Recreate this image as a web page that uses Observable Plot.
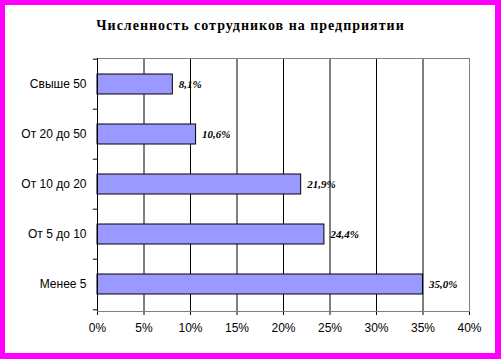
<!DOCTYPE html>
<html>
<head>
<meta charset="utf-8">
<script src="https://cdn.jsdelivr.net/npm/d3@7"></script>
<script src="https://cdn.jsdelivr.net/npm/@observablehq/plot@0.6"></script>
<style>
  html, body { margin: 0; padding: 0; background: #fff; }
  #wrap { position: relative; width: 501px; height: 359px; overflow: hidden; background: #fff; }
  #border { position: absolute; left: 0; top: 0; width: 501px; height: 359px; box-sizing: border-box;
            border-style: solid; border-color: #ff00ff; border-width: 5px 6px 6px 5px; pointer-events: none; }
  svg { display: block; }
  .chart-title text { letter-spacing: 1px; }
</style>
</head>
<body>
<div id="wrap"><div id="border"></div></div>
<script>
const title = "Численность сотрудников на предприятии";
const categories = ["Свыше 50", "От 20 до 50", "От 10 до 20", "От 5 до 10", "Менее 5"];
const values = [8.1, 10.6, 21.9, 24.4, 35.0];
const xTicks = [0, 5, 10, 15, 20, 25, 30, 35, 40];
const gridTicks = [5, 10, 15, 20, 25, 30, 35];

const data = categories.map((c, i) => ({cat: c, value: values[i]}));

const W = 501, H = 359;
const mL = 97, mR = 32, mT = 58, mB = 48;
const step = (H - mT - mB) / categories.length;

const chart = Plot.plot({
  width: W, height: H,
  marginLeft: mL, marginRight: mR, marginTop: mT, marginBottom: mB,
  style: {fontFamily: "'Liberation Sans', Arial, sans-serif", fontSize: "12px", background: "transparent", color: "black"},
  x: {domain: [0, 40], ticks: xTicks, tickFormat: d => d + "%", tickSize: 4, tickPadding: 8, line: true, label: null},
  y: {domain: categories, paddingInner: 0.6, paddingOuter: 0.3, tickSize: 0, tickPadding: 11, label: null},
  marks: [
    Plot.ruleX(gridTicks, {stroke: "black", strokeWidth: 1}),
    Plot.frame({stroke: "#808080"}),
    Plot.barX(data, {x: "value", y: "cat", fill: "#9999ff", stroke: "black", strokeWidth: 1}),
    Plot.ruleX([0], {stroke: "black"}),
    Plot.ruleY(categories, {y: d => d, x1: 0, x2: -0.45, dy: -step / 2, stroke: "black"}),
    Plot.ruleY([categories[categories.length - 1]], {y: d => d, x1: 0, x2: -0.45, dy: step / 2, stroke: "black"}),
    Plot.text(data, {x: "value", y: "cat", text: d => d.value.toFixed(1).replace(".", ",") + "%",
      dx: 6, textAnchor: "start", fontFamily: "'Liberation Serif', 'Times New Roman', serif",
      fontWeight: "bold", fontStyle: "italic", fontSize: 11, fill: "black"}),
    Plot.text([title], {frameAnchor: "top", dx: -33, dy: -33, lineAnchor: "middle",
      fontFamily: "'Liberation Serif', 'Times New Roman', serif", fontWeight: "bold", fontSize: 14,
      fill: "black", className: "chart-title"})
  ]
});
document.getElementById("wrap").insertBefore(chart, document.getElementById("border"));
</script>
</body>
</html>
